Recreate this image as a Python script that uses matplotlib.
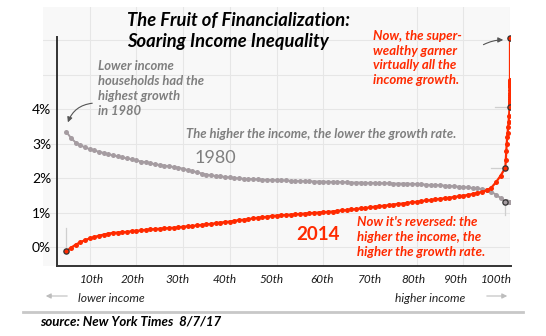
import matplotlib
matplotlib.use("Agg")
import matplotlib.pyplot as plt
from matplotlib.patches import FancyArrowPatch
import numpy as np

plt.rcParams['font.family'] = ['Lato', 'DejaVu Sans']

# ---------------- data ----------------
pct_main = list(range(5, 100))
pct_top = [99.1, 99.2, 99.3, 99.4, 99.5, 99.6, 99.7, 99.8, 99.9,
           99.91, 99.92, 99.93, 99.94, 99.95, 99.96, 99.97, 99.98, 99.99,
           99.991, 99.992, 99.993, 99.994, 99.995, 99.996, 99.997, 99.998, 99.999]
percentiles = pct_main + pct_top

growth_1980 = [3.34, 3.16, 3.03, 2.95, 2.89, 2.84, 2.80, 2.76, 2.73, 2.69,
               2.66, 2.63, 2.60, 2.57, 2.54, 2.51, 2.48, 2.46, 2.43, 2.40,
               2.38, 2.36, 2.34, 2.32, 2.30, 2.27, 2.23, 2.20, 2.17, 2.13,
               2.10, 2.08, 2.06, 2.05, 2.03, 2.02, 2.00, 1.99, 1.98, 1.97,
               1.97, 1.96, 1.95, 1.95, 1.94, 1.94, 1.93, 1.93, 1.92, 1.92,
               1.91, 1.91, 1.91, 1.90, 1.90, 1.90, 1.89, 1.89, 1.89, 1.88,
               1.88, 1.87, 1.87, 1.87, 1.86, 1.86, 1.86, 1.85, 1.85, 1.85,
               1.84, 1.84, 1.84, 1.84, 1.83, 1.83, 1.82, 1.81, 1.80, 1.80,
               1.79, 1.78, 1.77, 1.76, 1.75, 1.74, 1.73, 1.71, 1.70, 1.68,
               1.65, 1.60, 1.52, 1.42, 1.32,
               1.33, 1.33, 1.32, 1.32, 1.32, 1.32, 1.32, 1.32, 1.32,
               1.32, 1.32, 1.32, 1.32, 1.32, 1.32, 1.32, 1.32, 1.32,
               1.32, 1.32, 1.32, 1.32, 1.32, 1.32, 1.32, 1.32, 1.32]

growth_2014 = [-0.12, -0.02, 0.07, 0.14, 0.20, 0.25, 0.29, 0.33, 0.36, 0.39,
               0.41, 0.42, 0.43, 0.44, 0.46, 0.47, 0.48, 0.50, 0.51, 0.52,
               0.53, 0.54, 0.55, 0.56, 0.57, 0.59, 0.60, 0.61, 0.63, 0.64,
               0.66, 0.67, 0.69, 0.71, 0.72, 0.74, 0.76, 0.78, 0.79, 0.81,
               0.83, 0.85, 0.86, 0.88, 0.90, 0.91, 0.92, 0.93, 0.94, 0.95,
               0.96, 0.97, 0.98, 0.99, 1.00, 1.01, 1.02, 1.03, 1.05, 1.06,
               1.07, 1.09, 1.10, 1.12, 1.13, 1.15, 1.17, 1.18, 1.20, 1.21,
               1.23, 1.25, 1.26, 1.28, 1.30, 1.31, 1.33, 1.35, 1.36, 1.38,
               1.40, 1.41, 1.43, 1.45, 1.47, 1.49, 1.51, 1.54, 1.57, 1.60,
               1.64, 1.72, 1.88, 2.07, 2.30,
               2.52, 2.78, 3.00, 3.18, 3.32, 3.48, 3.62, 3.80, 4.06,
               4.12, 4.17, 4.22, 4.28, 4.34, 4.40, 4.48, 4.56, 4.65,
               4.68, 4.70, 4.72, 4.75, 4.77, 4.79, 4.81, 4.84, 6.06]

red_circled = [5, 99, 99.9, 99.999]
gray_circled = [99]

xtick_labels = ['10th', '20th', '30th', '40th', '50th', '60th', '70th', '80th', '90th', '100th']
xtick_label_pos = [10.4, 19.3, 28.9, 38.9, 49.0, 59.7, 70.0, 79.4, 88.4, 97.0]
ytick_vals = [0, 1, 2, 3, 4, 5, 6]
ytick_labels = ['0%', '1%', '2%', '3%', '4%', '', '']

RED = '#ff2a00'
GRAY = '#a59ca1'
TXTGRAY = '#7f7f7f'

W, H = 546, 336
fig = plt.figure(figsize=(W / 100, H / 100), dpi=100)
fig.patch.set_facecolor('white')

def fx(px):
    return px / W

def fy(py):
    return 1 - py / H

ax = fig.add_axes([fx(43), fy(266), (510 - 43) / W, (266 - 7) / H])
ax.set_facecolor('#f8f8f8')
ax.set_xlim(0, 100)
ax.set_ylim(-0.55, 6.96)

# grid
ax.set_xticks(np.arange(10, 101, 10), minor=True)
ax.set_xticks(xtick_label_pos)
ax.set_xticklabels(xtick_labels, fontstyle='italic', fontsize=8.5, color='#1a1a1a')
ax.set_yticks(ytick_vals)
ax.set_yticklabels(ytick_labels, fontstyle='italic', fontsize=9, color='#1a1a1a')
ax.grid(False)
ax.grid(True, which='minor', axis='x', color='#e6e6e6', lw=0.8)
ax.grid(True, which='major', axis='y', color='#e6e6e6', lw=0.8)
ax.tick_params(axis='both', which='both', length=0)
ax.tick_params(axis='x', pad=6)
ax.tick_params(axis='y', pad=4)
ax.set_axisbelow(True)

for s in ['top', 'right']:
    ax.spines[s].set_visible(False)
left_x = 2.94
ax.spines['left'].set_position(('data', left_x))
ax.spines['left'].set_bounds(-0.55, 6.1)
ax.spines['bottom'].set_bounds(left_x, 100.2)
for s in ['left', 'bottom']:
    ax.spines[s].set_color('#333333')
    ax.spines[s].set_linewidth(1.4)

# leader lines
ax.plot([5, 5], [-0.1, 0.55], color='#cfcfcf', lw=0.9, zorder=1)
ax.plot([96.0, 99], [2.30, 2.30], color='#cfcfcf', lw=0.9, zorder=1)
ax.plot([96.8, 99.9], [4.06, 4.06], color='#cfcfcf', lw=0.9, zorder=1)
ax.plot([99, 99], [1.32, 0.93], color='#cfcfcf', lw=0.9, zorder=1)

# series
ax.plot(percentiles, growth_1980, color=GRAY, lw=1.4, marker='o', ms=3.6,
        markeredgewidth=0, zorder=3)
ax.plot(percentiles, growth_2014, color=RED, lw=1.6, marker='o', ms=3.6,
        markeredgewidth=0, zorder=4)

gi = [percentiles.index(p) for p in gray_circled]
ax.plot([percentiles[i] for i in gi], [growth_1980[i] for i in gi], 'o', ms=3.8,
        mfc=GRAY, mec='#333333', mew=0.9, zorder=5)
ri = [percentiles.index(p) for p in red_circled]
ax.plot([percentiles[i] for i in ri], [growth_2014[i] for i in ri], 'o', ms=3.8,
        mfc=RED, mec='#333333', mew=0.9, zorder=6)

# ---------------- texts ----------------
fig.text(fx(127), fy(20), 'The Fruit of Financialization:', fontsize=13.2,
         fontweight='bold', fontstyle='italic', color='black', va='center', ha='left')
fig.text(fx(127), fy(42), 'Soaring Income Inequality', fontsize=13.2,
         fontweight='bold', fontstyle='italic', color='black', va='center', ha='left')

fig.text(fx(98), fy(88.5), 'Lower income\nhouseholds had the\nhighest growth\nin 1980',
         fontsize=9.4, fontweight='bold', fontstyle='italic', color=TXTGRAY,
         va='center', ha='left', linespacing=1.28)
fig.text(fx(186), fy(134), 'The higher the income, the lower the growth rate.',
         fontsize=9.4, fontweight='bold', fontstyle='italic', color=TXTGRAY,
         va='center', ha='left')
fig.text(fx(195), fy(158), '1980', fontsize=13, color=TXTGRAY, va='center', ha='left')
fig.text(fx(296), fy(235), '2014', fontsize=13.5, fontweight='bold', color=RED,
         va='center', ha='left')
fig.text(fx(357), fy(236.7), "Now it's reversed: the\nhigher the income, the\nhigher the growth rate.",
         fontsize=9.5, fontweight='bold', fontstyle='italic', color=RED,
         va='center', ha='left', linespacing=1.3)
fig.text(fx(373), fy(58), 'Now, the super-\nwealthy garner\nvirtually all the\nincome growth.',
         fontsize=9.5, fontweight='bold', fontstyle='italic', color=RED,
         va='center', ha='left', linespacing=1.28)

fig.text(fx(78), fy(299), 'lower income', fontsize=8.7, fontstyle='italic',
         color='#222222', va='center', ha='left')
fig.text(fx(395), fy(299), 'higher income', fontsize=8.7, fontstyle='italic',
         color='#222222', va='center', ha='left')
fig.text(fx(40), fy(322), 'source: New York Times  8/7/17', fontsize=9.5,
         fontweight='bold', fontstyle='italic', color='black', va='center', ha='left')

# arrows
def farrow(p0, p1, rad, color='#555555', lw=0.8, hw=3):
    a = FancyArrowPatch((fx(p0[0]), fy(p0[1])), (fx(p1[0]), fy(p1[1])),
                        transform=fig.transFigure,
                        connectionstyle=f'arc3,rad={rad}',
                        arrowstyle=f'-|>,head_length={hw},head_width={hw * 0.5}',
                        color=color, lw=lw, mutation_scale=1)
    fig.patches.append(a)

farrow((95, 103), (67, 125), 0.35)
farrow((481, 46), (506, 40), -0.15)
farrow((70, 296), (43, 296), 0, color='#bdbdbd', lw=0.8, hw=3)
farrow((484, 296), (510, 296), 0, color='#bdbdbd', lw=0.8, hw=3)

# separator line
fig.add_artist(plt.Line2D([fx(23), fx(523)], [fy(312), fy(312)], color='#c8c8c8', lw=2,
                          transform=fig.transFigure))

fig.savefig('out.png', dpi=100, facecolor='white')
